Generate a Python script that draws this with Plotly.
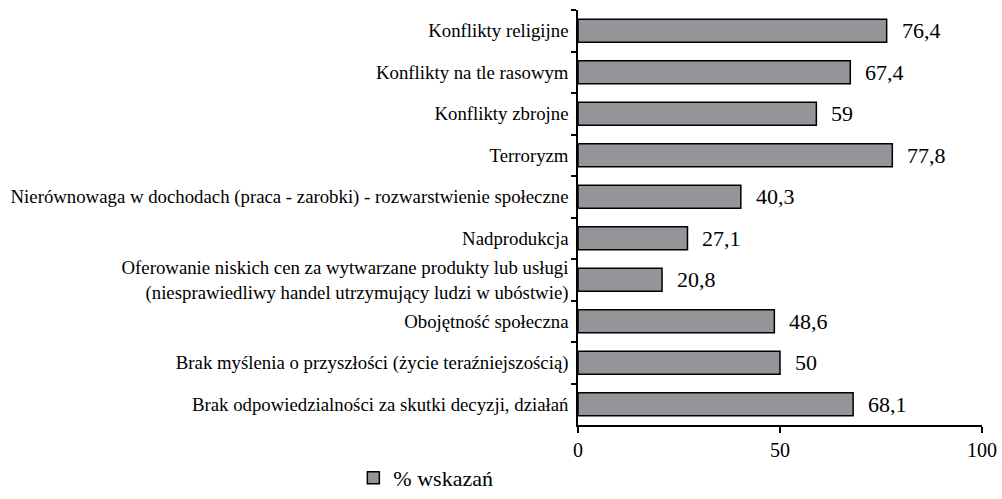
import plotly.graph_objects as go

categories = [
    "Konflikty religijne",
    "Konflikty na tle rasowym",
    "Konflikty zbrojne",
    "Terroryzm",
    "Nierównowaga w dochodach (praca - zarobki) - rozwarstwienie społeczne",
    "Nadprodukcja",
    "Oferowanie niskich cen za wytwarzane produkty lub usługi<br>(niesprawiedliwy handel utrzymujący ludzi w ubóstwie)",
    "Obojętność społeczna",
    "Brak myślenia o przyszłości (życie teraźniejszością)",
    "Brak odpowiedzialności za skutki decyzji, działań",
]
values = [76.4, 67.4, 59, 77.8, 40.3, 27.1, 20.8, 48.6, 50, 68.1]
series_name = "% wskazań"
x_ticks = [0, 50, 100]

labels = [("%g" % v).replace(".", ",") for v in values]
SERIF = "Liberation Serif, Times New Roman, serif"

fig = go.Figure()
fig.add_trace(go.Bar(
    y=categories, x=values, orientation="h", name=series_name,
    marker=dict(color="#939598", line=dict(color="#000000", width=1.5)),
    width=0.56, showlegend=True,
))

for c, v, t in zip(categories, values, labels):
    fig.add_annotation(x=v, y=c, text=t, showarrow=False, xanchor="left",
                       xshift=13, font=dict(family=SERIF, size=22, color="#000"))

fig.update_layout(
    width=1002, height=499,
    margin=dict(l=578, r=20, t=10, b=74),
    paper_bgcolor="white", plot_bgcolor="white",
    font=dict(family=SERIF, color="#000"),
    showlegend=True,
    legend=dict(orientation="h", xref="container", yref="container",
                x=0.425, y=0.0, xanchor="center", yanchor="bottom",
                font=dict(size=22, family=SERIF)),
    xaxis=dict(range=[0, 100], tickvals=x_ticks, showgrid=False, zeroline=False,
               automargin=False,
               showline=True, linecolor="#000", linewidth=1.5,
               ticks="outside", ticklen=6, tickcolor="#000", tickwidth=1.5,
               tickfont=dict(size=20, family=SERIF)),
    yaxis=dict(autorange="reversed", showgrid=False, showline=True,
               automargin=False,
               linecolor="#000", linewidth=1.5,
               ticks="outside", tickson="boundaries", ticklen=5,
               tickcolor="#000", tickwidth=1.5,
               tickfont=dict(size=18.8, family=SERIF),
               ticklabelstandoff=4),
)

fig.write_html(
    "out.html",
    config={"displayModeBar": False},
    post_script="document.body.style.margin='0';document.body.style.overflow='hidden';",
)
